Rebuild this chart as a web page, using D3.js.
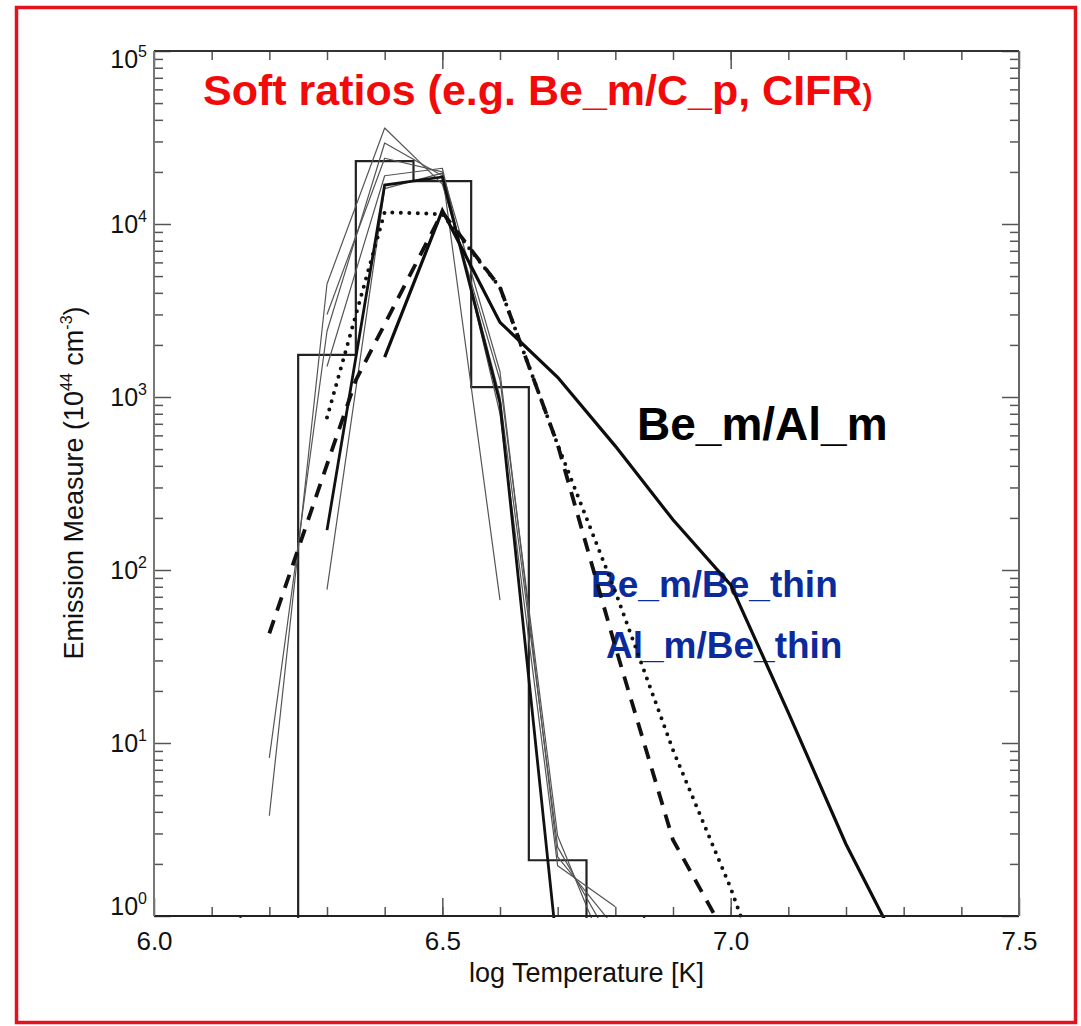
<!DOCTYPE html>
<html>
  <head>
    <meta charset="utf-8">
    <title>Emission Measure vs log Temperature</title>
    <script src="https://cdn.jsdelivr.net/npm/d3@7"></script>
    <style>
      body { margin: 0; background: #fff; }
      svg { display: block; font-family: 'Liberation Sans', Arial, sans-serif; }
    </style>
  </head>
  <body>
    <svg></svg>
    <script>
      // histogram DEM, one value per 0.1 bin (bin centres)
      let histT  = [6.0, 6.1, 6.2, 6.3, 6.4, 6.5, 6.6, 6.7, 6.8, 6.9, 7.0, 7.1, 7.2, 7.3, 7.4, 7.5];
      let histEM = [1, 1, 0.3, 1750, 23100, 17700, 1140, 2.1, 0.3, 1, 1, 1, 1, 1, 1, 1];

      // Be_m/Al_m (thick solid)
      let bemAlmT  = [6.4, 6.5, 6.6, 6.7, 6.8, 6.9, 7.0, 7.1, 7.2, 7.3];
      let bemAlmEM = [1700, 12000, 2700, 1300, 520, 195, 82, 15, 2.6, 0.58];

      // Be_m/Be_thin (dashed)
      let bemBetT  = [6.2, 6.35, 6.5, 6.6, 6.7, 6.8, 6.9, 7.0];
      let bemBetEM = [43, 1250, 11700, 4300, 530, 36, 2.75, 0.69];

      // Al_m/Be_thin (dotted)
      let almBetT  = [6.3, 6.4, 6.5, 6.6, 6.7, 6.8, 6.9, 7.0, 7.1];
      let almBetEM = [760, 11700, 11400, 4300, 530, 75, 9.1, 1.45, 0.17];

      // soft ratio solutions (thin lines) on a common grid
      let softT  = [6.2, 6.3, 6.4, 6.5, 6.6, 6.7, 6.8];
      let softA  = [3.8, 4500, 35900, 17000, 1250, 2.9, 0.45];
      let softB  = [8.2, 2400, 29400, 19000, 1000, 2.5, 0.65];
      let softC  = [null, 3000, 24000, 20000, 1400, 2.2, 0.85];
      let softD  = [null, 1500, 19000, 21000, 800, 1.95, 1.13];
      let softE  = [null, 77, 16000, 19700, 67, null, null];
      let softThick = [null, 170, 16800, 18700, 920, 0.6, null];

      let xMajor = [6.0, 6.5, 7.0, 7.5];
      let xLabels = ["6.0", "6.5", "7.0", "7.5"];
      let yMajor = [1, 10, 100, 1000, 10000, 100000];

      let w = 1081, h = 1026;
      let margin = {top: 51, left: 154, right: 62, bottom: 110};

      let svg = d3.select("svg")
                  .attr("width", w)
                  .attr("height", h);

      svg.append("rect")
         .attr("width", w).attr("height", h)
         .attr("fill", "#fff");

      // red frame
      svg.append("rect")
         .attr("x", 16.5).attr("y", 7.5)
         .attr("width", 1059).attr("height", 1015)
         .attr("fill", "none")
         .attr("stroke", "#e2131d")
         .attr("stroke-width", 3.5);

      let x = d3.scaleLinear()
                .domain([6.0, 7.5])
                .range([margin.left, w - margin.right]);

      let y = d3.scaleLog()
                .domain([1, 1e5])
                .range([h - margin.bottom, margin.top]);

      let zip = (ts, vs) => ts.map((t, i) => ({t: t, v: vs[i]}));

      //annotations (drawn under the curves)
      svg.append("text")
         .attr("x", 203).attr("y", 105)
         .attr("fill", "#f20a0a")
         .attr("font-weight", "bold")
         .attr("font-size", 43)
         .text("Soft ratios (e.g. Be_m/C_p, CIFR")
         .append("tspan")
         .attr("font-size", 30)
         .text(")");

      svg.append("text")
         .attr("x", 637).attr("y", 440)
         .attr("font-weight", "bold")
         .attr("font-size", 46)
         .text("Be_m/Al_m");

      svg.append("text")
         .attr("x", 591).attr("y", 597)
         .attr("fill", "#0b2b9c")
         .attr("font-weight", "bold")
         .attr("font-size", 37)
         .text("Be_m/Be_thin");

      svg.append("text")
         .attr("x", 606).attr("y", 658)
         .attr("fill", "#0b2b9c")
         .attr("font-weight", "bold")
         .attr("font-size", 37)
         .text("Al_m/Be_thin");

      svg.append("clipPath")
         .attr("id", "plotClip")
         .append("rect")
         .attr("x", x(6.0)).attr("y", y(1e5) - 1)
         .attr("width", x(7.5) - x(6.0))
         .attr("height", y(1) - y(1e5) + 3);

      let plot = svg.append("g").attr("clip-path", "url(#plotClip)");

      let line = d3.line()
                   .defined(d => d.v != null)
                   .x(d => x(d.t))
                   .y(d => y(d.v));

      let stepLine = d3.line()
                       .curve(d3.curveStep)
                       .x(d => x(d.t))
                       .y(d => y(d.v));

      //histogram
      plot.append("path")
          .attr("d", stepLine(zip(histT, histEM)))
          .attr("fill", "none")
          .attr("stroke", "#222")
          .attr("stroke-width", 2.2);

      //thin soft-ratio lines
      [softA, softB, softC, softD, softE].forEach(vals => {
        plot.append("path")
            .attr("d", line(zip(softT, vals)))
            .attr("fill", "none")
            .attr("stroke", "#555")
            .attr("stroke-width", 1.2)
            .attr("stroke-linejoin", "round");
      });

      plot.append("path")
          .attr("d", line(zip(softT, softThick)))
          .attr("fill", "none")
          .attr("stroke", "#111")
          .attr("stroke-width", 2.8);

      plot.append("path")
          .attr("d", line(zip(bemAlmT, bemAlmEM)))
          .attr("fill", "none")
          .attr("stroke", "#0d0d0d")
          .attr("stroke-width", 3.2);

      plot.append("path")
          .attr("d", line(zip(bemBetT, bemBetEM)))
          .attr("fill", "none")
          .attr("stroke", "#111")
          .attr("stroke-width", 3.8)
          .attr("stroke-dasharray", "14,10");

      plot.append("path")
          .attr("d", line(zip(almBetT, almBetEM)))
          .attr("fill", "none")
          .attr("stroke", "#111")
          .attr("stroke-width", 4)
          .attr("stroke-linecap", "round")
          .attr("stroke-dasharray", "0,8.5");

      //axes: minor ticks every 0.1 / every 2..9 of a decade
      let xMinor = d3.range(61, 75).map(d => d / 10);
      let yMinor = [];
      yMajor.slice(0, -1).forEach(p => d3.range(2, 10).forEach(k => yMinor.push(k * p)));

      let styleAxis = g => {
        g.select(".domain").remove();
        g.selectAll("line").attr("stroke", "#555").attr("stroke-width", 1.5);
      };

      let bottom = h - margin.bottom, right = w - margin.right;

      svg.append("g").attr("transform", `translate(0,${bottom})`)
         .call(d3.axisBottom(x).tickValues(xMinor).tickSize(-9).tickFormat(""))
         .call(styleAxis);
      svg.append("g").attr("transform", `translate(0,${margin.top})`)
         .call(d3.axisTop(x).tickValues(xMinor).tickSize(-9).tickFormat(""))
         .call(styleAxis);
      svg.append("g").attr("transform", `translate(0,${margin.top})`)
         .call(d3.axisTop(x).tickValues(xMajor).tickSize(-18).tickFormat(""))
         .call(styleAxis);

      let xAxis = svg.append("g").attr("transform", `translate(0,${bottom})`)
                     .call(d3.axisBottom(x).tickValues(xMajor).tickSize(-18)
                             .tickPadding(16).tickFormat((d, i) => xLabels[i]))
                     .call(styleAxis);
      xAxis.selectAll("text")
           .attr("font-size", 26)
           .attr("font-family", "'Liberation Sans', Arial, sans-serif")
           .attr("fill", "#111");

      svg.append("g").attr("transform", `translate(${margin.left},0)`)
         .call(d3.axisLeft(y).tickValues(yMinor).tickSize(-9).tickFormat(""))
         .call(styleAxis);
      svg.append("g").attr("transform", `translate(${margin.left},0)`)
         .call(d3.axisLeft(y).tickValues(yMajor).tickSize(-17).tickFormat(""))
         .call(styleAxis);
      svg.append("g").attr("transform", `translate(${right},0)`)
         .call(d3.axisRight(y).tickValues(yMinor).tickSize(-9).tickFormat(""))
         .call(styleAxis);
      svg.append("g").attr("transform", `translate(${right},0)`)
         .call(d3.axisRight(y).tickValues(yMajor).tickSize(-17).tickFormat(""))
         .call(styleAxis);

      //plot box
      let box = svg.append("g").attr("fill", "none").attr("stroke-width", 2);
      box.append("line").attr("x1", margin.left).attr("x2", right)
         .attr("y1", bottom).attr("y2", bottom).attr("stroke", "#222");
      box.append("line").attr("x1", margin.left).attr("x2", right)
         .attr("y1", margin.top).attr("y2", margin.top).attr("stroke", "#333");
      box.append("line").attr("x1", margin.left).attr("x2", margin.left)
         .attr("y1", margin.top).attr("y2", bottom).attr("stroke", "#777");
      box.append("line").attr("x1", right).attr("x2", right)
         .attr("y1", margin.top).attr("y2", bottom).attr("stroke", "#666");

      //y tick labels 10^n
      let yLab = svg.append("g")
                    .selectAll("text")
                    .data(yMajor)
                    .enter()
                    .append("text")
                    .attr("x", margin.left - 7)
                    .attr("y", (d, i) => y(d) + (i === 0 ? -1 : i === yMajor.length - 1 ? 17 : 9))
                    .attr("text-anchor", "end")
                    .attr("font-size", 25)
                    .attr("fill", "#111");
      yLab.append("tspan").text("10");
      yLab.append("tspan")
          .attr("dy", -11)
          .attr("font-size", 16)
          .text(d => Math.round(Math.log10(d)));

      //axis titles
      svg.append("text")
         .attr("x", (margin.left + right) / 2)
         .attr("y", 982)
         .attr("text-anchor", "middle")
         .attr("font-size", 27)
         .attr("fill", "#111")
         .text("log Temperature [K]");

      let yTitle = svg.append("text")
                      .attr("transform", "translate(83,483) rotate(-90)")
                      .attr("text-anchor", "middle")
                      .attr("font-size", 27)
                      .attr("fill", "#111");
      yTitle.append("tspan").text("Emission Measure (10");
      yTitle.append("tspan").attr("dy", -11).attr("font-size", 16).text("44");
      yTitle.append("tspan").attr("dy", 11).text(" cm");
      yTitle.append("tspan").attr("dy", -11).attr("font-size", 16).text("-3");
      yTitle.append("tspan").attr("dy", 11).text(")");
    </script>
  </body>
</html>
